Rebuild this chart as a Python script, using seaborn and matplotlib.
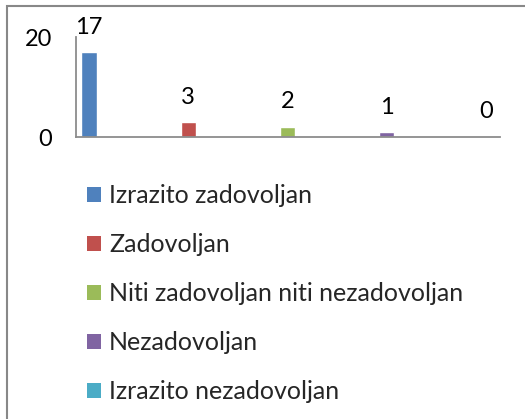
import matplotlib
matplotlib.use("Agg")
import matplotlib.pyplot as plt
from matplotlib.patches import Rectangle, Patch
import seaborn as sns
import pandas as pd

categories = ["Izrazito zadovoljan", "Zadovoljan", "Niti zadovoljan niti nezadovoljan",
              "Nezadovoljan", "Izrazito nezadovoljan"]
values = [17, 3, 2, 1, 0]
colors = ["#4F81BD", "#C0504D", "#9BBB59", "#8064A2", "#4BACC6"]
yticks = [0, 20]

sns.set_style("white")
plt.rcParams["font.family"] = ["Lato", "DejaVu Sans"]

W, H = 525, 419
fig = plt.figure(figsize=(W / 100, H / 100), dpi=100)
ax = fig.add_axes([76 / W, 1 - 137 / H, 424 / W, 100 / H])

df = pd.DataFrame({"cat": categories, "val": values})
sns.barplot(data=df, x="cat", y="val", hue="cat", palette=colors, width=0.155,
            dodge=False, legend=False, ax=ax, saturation=1)

ax.set_xlim(-0.13, 4.14)
ax.set_ylim(0, 20)
ax.set_yticks(yticks)
ax.set_xticks([])
ax.set_xlabel("")
ax.set_ylabel("")
ax.tick_params(axis="y", length=0, pad=17, labelsize=17, colors="black")
for s in ["top", "right"]:
    ax.spines[s].set_visible(False)
for s in ["left", "bottom"]:
    ax.spines[s].set_color("#8C8C8C")
    ax.spines[s].set_linewidth(1.3)

for i, v in enumerate(values):
    ax.annotate(str(v), (i, v), xytext=(0, 18), textcoords="offset points",
                ha="center", va="center", fontsize=17, color="black",
                annotation_clip=False)

handles = [Patch(facecolor=c, edgecolor="none") for c in colors]
fig.legend(handles, categories, loc="upper left",
           bbox_to_anchor=(87 / W, 1 - 184 / H), frameon=False,
           fontsize=18, handlelength=0.56, handleheight=0.56,
           handletextpad=0.32, labelspacing=1.04, borderpad=0, borderaxespad=0)

fig.patches.append(Rectangle((7 / W, -0.2), 2, 0.2 + (H - 6) / H,
                             transform=fig.transFigure, fill=False,
                             edgecolor="#888888", linewidth=1.5))

fig.savefig("out.png", dpi=100)
